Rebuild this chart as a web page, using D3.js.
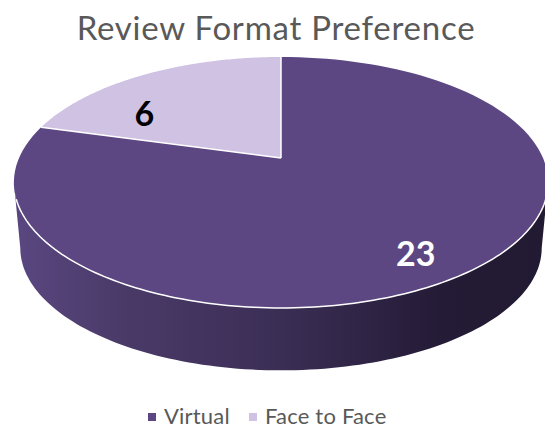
<!DOCTYPE html>
<html>
<head>
<meta charset="utf-8">
<script src="https://cdn.jsdelivr.net/npm/d3@7"></script>
<style>
  body { margin: 0; background: #fff; }
  text { font-family: Lato, "Open Sans", sans-serif; }
</style>
</head>
<body>
<svg id="chart"></svg>
<script>
var w = 545;
var h = 425;

var chartTitle = "Review Format Preference";
var categories = ["Virtual", "Face to Face"];
var values = [23, 6];
var colors = ["#5c4783", "#cfc2e3"];
var labelColors = ["#ffffff", "#000000"];

// tilted disc: apex is not mid-ellipse because of the perspective
var cx = 281, cy = 158;
var bx = 262, ay = 120.7, k = 0.195;
var depth = 66, shrink = 0.976;

function project(a, r, lower) {
  var u = Math.sin(a) * r, v = Math.cos(a) * r;
  var d = 1 + k * v;
  var s = lower ? shrink : 1;
  return [cx + s * bx * u / d, cy - s * ay * v / d + (lower ? depth : 0)];
}

var svg = d3.select("#chart").attr("width", w).attr("height", h);
var line = d3.line();

var arcs = d3.pie().sort(null).value(function(d) { return d; })(values);

function rim(a0, a1, lower) {
  return d3.range(0, 121).map(function(i) {
    return project(a0 + (a1 - a0) * i / 120, 1, lower);
  });
}

// side wall
var grad = svg.append("defs").append("linearGradient")
    .attr("id", "side")
    .attr("gradientUnits", "userSpaceOnUse")
    .attr("x1", 14).attr("x2", 547).attr("y1", 0).attr("y2", 0);
grad.selectAll("stop")
    .data([[0, "#5a4781"], [0.2, "#4a3a68"], [0.5, "#3b2e55"], [0.8, "#241b36"], [1, "#221a32"]])
    .enter().append("stop")
    .attr("offset", function(d) { return d[0]; })
    .attr("stop-color", function(d) { return d[1]; });

var aLeft = 2 * Math.PI - Math.acos(-k);
var aRight = Math.acos(-k);
svg.append("path")
    .attr("d", line(rim(aRight, aLeft, false).concat(rim(aLeft, aRight, true))) + "Z")
    .attr("fill", "url(#side)");

// top face
svg.selectAll("path.slice")
    .data(arcs)
    .enter().append("path")
    .attr("class", "slice")
    .attr("d", function(d) {
      return line([project(0, 0, false)].concat(rim(d.startAngle, d.endAngle, false))) + "Z";
    })
    .attr("fill", function(d, i) { return colors[i]; });

// white edges between slices and along the front
svg.selectAll("path.edge")
    .data(arcs)
    .enter().append("path")
    .attr("class", "edge")
    .attr("d", function(d) {
      return line([project(d.startAngle, 1, false), project(0, 0, false)]);
    })
    .attr("fill", "none")
    .attr("stroke", "#fff")
    .attr("stroke-width", 1.5);

svg.append("path")
    .attr("d", line(rim(aRight + 0.13, aLeft - 0.13, false)))
    .attr("fill", "none")
    .attr("stroke", "#fff")
    .attr("stroke-width", 1.5);

// data labels
var labelAngle = [Math.PI * 0.8172, Math.PI * 1.694];
var labelRadius = [0.82, 0.685];
svg.selectAll("text.value")
    .data(arcs)
    .enter().append("text")
    .attr("class", "value")
    .attr("x", function(d, i) { return project(labelAngle[i], labelRadius[i], false)[0]; })
    .attr("y", function(d, i) { return project(labelAngle[i], labelRadius[i], false)[1] + 3; })
    .attr("text-anchor", "middle")
    .attr("dominant-baseline", "middle")
    .attr("font-size", 34)
    .attr("font-weight", 700)
    .attr("fill", function(d, i) { return labelColors[i]; })
    .text(function(d) { return d.value; });

// title
svg.append("text")
    .attr("x", 276)
    .attr("y", 40)
    .attr("text-anchor", "middle")
    .attr("font-size", 33)
    .attr("letter-spacing", 0.75)
    .attr("fill", "#595959")
    .text(chartTitle);

// legend
var legendX = [148, 249];
var legend = svg.selectAll("g.legend")
    .data(categories)
    .enter().append("g")
    .attr("class", "legend")
    .attr("transform", function(d, i) { return "translate(" + legendX[i] + ",413)"; });
legend.append("rect")
    .attr("width", 8).attr("height", 8)
    .attr("fill", function(d, i) { return colors[i]; });
legend.append("text")
    .attr("x", 16)
    .attr("y", 11)
    .attr("font-size", 22)
    .attr("letter-spacing", 0.2)
    .attr("fill", "#595959")
    .text(function(d) { return d; });
</script>
</body>
</html>
